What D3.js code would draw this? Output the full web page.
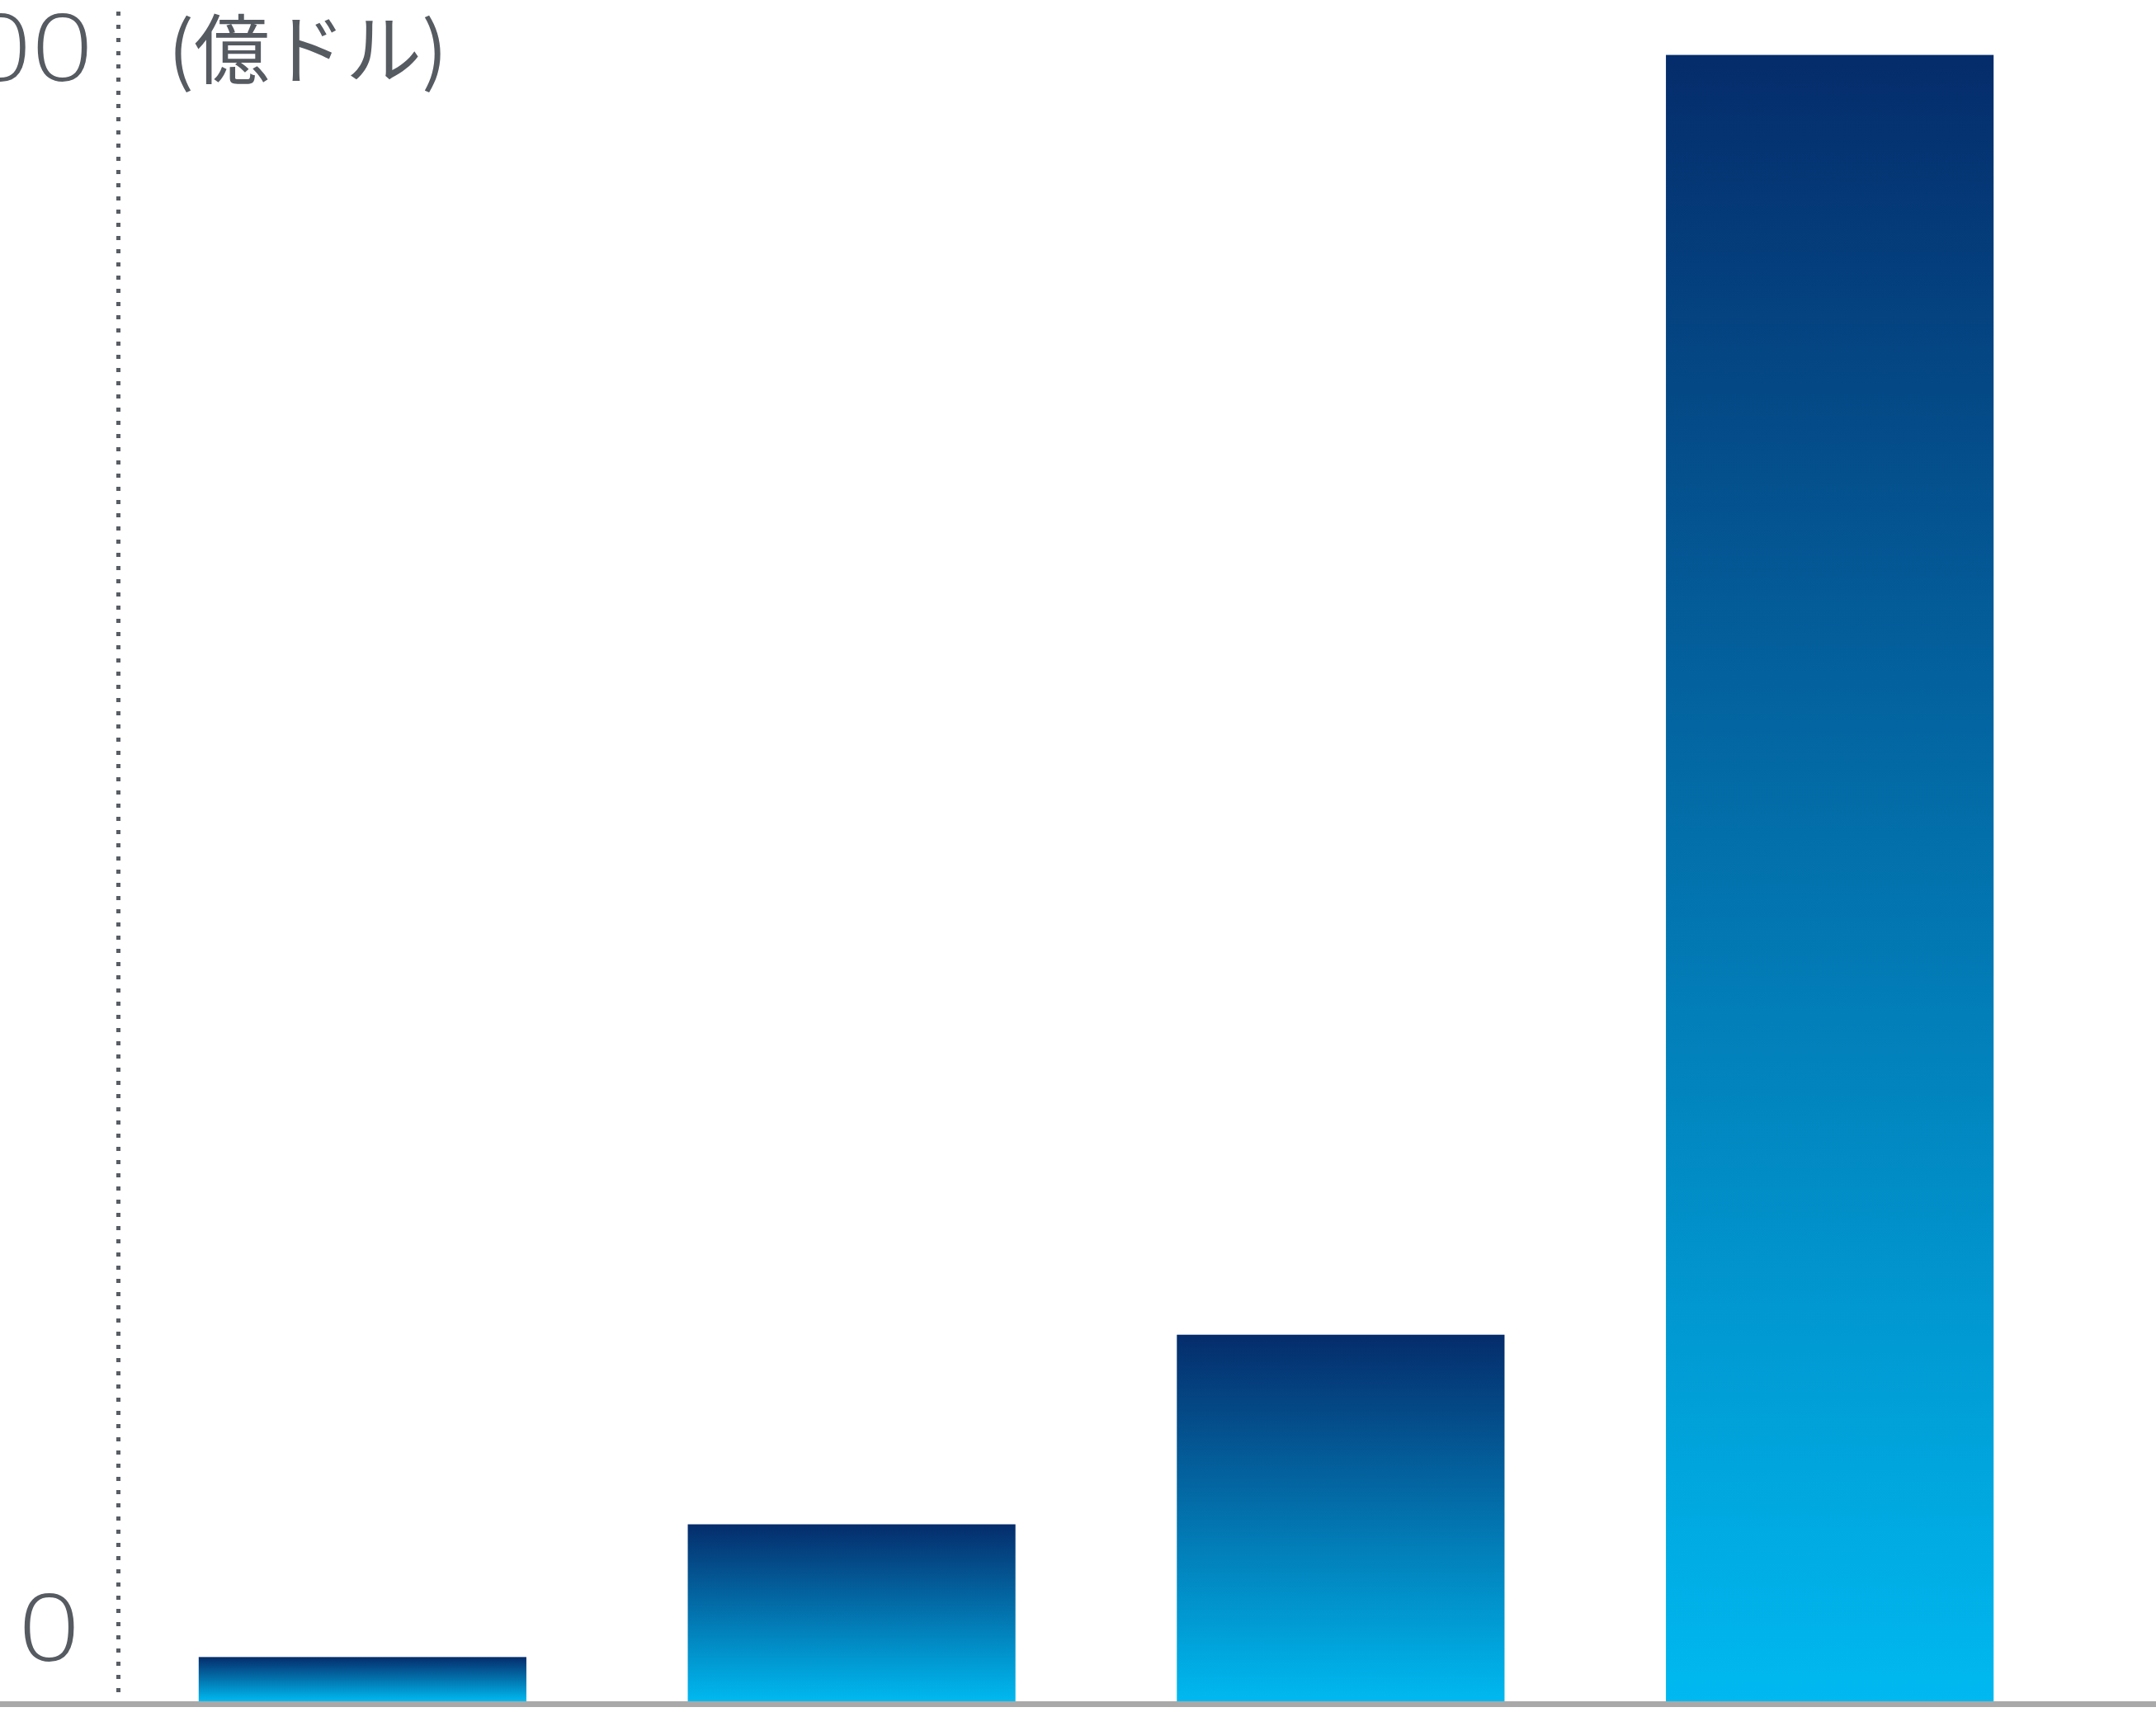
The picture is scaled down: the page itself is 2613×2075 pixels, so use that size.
<!DOCTYPE html>
<html>
<head>
<meta charset="utf-8">
<script src="https://cdn.jsdelivr.net/npm/d3@7"></script>
<style>
  html, body { margin: 0; padding: 0; background: #ffffff; overflow: hidden; }
  svg { display: block; }
</style>
</head>
<body>
<script>
// ---- data ----
const categories = ["A", "B", "C", "D"];
const values = [28, 112, 232, 1042];
const tickValues = [0, 1000];
const unitLabel = "(億ドル)";

// ---- layout ----
const W = 2613, H = 2075;
const axisX = 143;
const baseY = 2062;

const svg = d3.select("body").append("svg")
  .attr("width", W).attr("height", H);

const defs = svg.append("defs");
const grad = defs.append("linearGradient")
  .attr("id", "barGrad")
  .attr("x1", 0).attr("y1", 0).attr("x2", 0).attr("y2", 1);
grad.append("stop").attr("offset", "0%").attr("stop-color", "#052c6b");
grad.append("stop").attr("offset", "100%").attr("stop-color", "#00b9f0");

const x = d3.scaleBand()
  .domain(categories)
  .range([axisX, 2514])
  .paddingInner(0.33)
  .paddingOuter(0.165);

const y = d3.scaleLinear()
  .domain([0, 1000])
  .range([baseY, 147]);

// bars
svg.append("g").selectAll("rect")
  .data(categories.map((c, i) => ({ c, v: values[i] })))
  .join("rect")
  .attr("x", d => x(d.c))
  .attr("width", x.bandwidth())
  .attr("y", d => y(d.v))
  .attr("height", d => y(0) - y(d.v))
  .attr("fill", "url(#barGrad)");

// baseline
svg.append("rect")
  .attr("x", 0).attr("width", W)
  .attr("y", baseY).attr("height", 7)
  .attr("fill", "#a8a9a8");

// dotted vertical axis
svg.append("line")
  .attr("x1", axisX + 0.5).attr("x2", axisX + 0.5)
  .attr("y1", 14).attr("y2", baseY)
  .attr("stroke", "#585d65")
  .attr("stroke-width", 5)
  .attr("stroke-dasharray", "5 11");

// y axis labels
const yAxis = d3.axisLeft(y)
  .tickValues(tickValues)
  .tickSize(0)
  .tickPadding(0)
  .tickFormat(d3.format(","));

const gy = svg.append("g")
  .attr("transform", `translate(${axisX},0)`)
  .call(yAxis);
gy.select(".domain").remove();
gy.selectAll("text")
  .attr("x", 0)
  .attr("dy", -50)
  .attr("transform", d => `translate(${d === 0 ? -46 : -30},0) scale(1.17,1)`)
  .attr("fill", "#565b62")
  .style("font-family", "'Open Sans', 'Noto Sans', sans-serif")
  .style("font-size", "112px")
  .style("font-weight", 300);

// unit label
svg.append("text")
  .attr("x", 204)
  .attr("y", 94)
  .attr("fill", "#565b62")
  .style("font-family", "'Noto Sans CJK JP', sans-serif")
  .style("font-size", "92px")
  .style("font-weight", 400)
  .text(unitLabel);
</script>
</body>
</html>
